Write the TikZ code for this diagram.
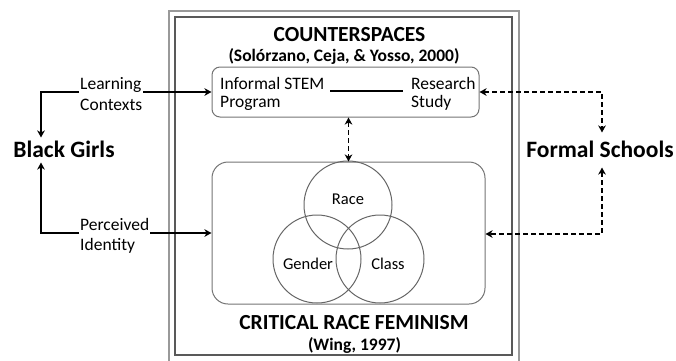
\documentclass[tikz,border=0pt]{standalone}
\usepackage{fontspec}
\setmainfont{Carlito}
\usetikzlibrary{arrows.meta}
\begin{document}
\begin{tikzpicture}[x=1pt,y=-1pt,
  frameout/.style={draw=black!40,line width=1.4pt},
  framein/.style={draw=black!65,line width=1.4pt},
  panel/.style={draw=black!55,line width=1pt,inner sep=0pt},
  venn/.style={draw=black!60,line width=1pt,circle,minimum size=88pt,inner sep=0pt},
  body/.style={font=\fontsize{17.5}{18}\selectfont,inner sep=0pt,align=left},
  side/.style={font=\fontsize{17.5}{20.5}\selectfont,inner sep=1pt,align=left},
  vlabel/.style={font=\fontsize{16.5}{19}\selectfont,inner sep=0pt},
  title/.style={font=\bfseries\fontsize{21.5}{24}\selectfont,inner sep=0pt},
  subtitle/.style={font=\bfseries\fontsize{17.5}{20}\selectfont,inner sep=0pt},
  actor/.style={font=\bfseries\fontsize{23.5}{26}\selectfont,inner sep=0pt,text height=14pt,text depth=0pt},
  tip/.style={Stealth[length=7pt,width=7.5pt,inset=2pt]},
  arr/.style={line width=1.4pt,-{Stealth[length=7pt,width=7.5pt,inset=2pt]}},
  darr/.style={line width=1.4pt,dash pattern=on 5pt off 3pt,{Stealth[length=7pt,width=7.5pt,inset=2pt]}-{Stealth[length=7pt,width=7.5pt,inset=2pt]}}
]
\useasboundingbox (0,0) rectangle (676,360);
% double frame
\draw[frameout] (169,365) -- (169,11) -- (519,11) -- (519,365);
\draw[framein] (175,17) rectangle (512,355);
% titles
\node[title] (t1) at (349.5,35) {COUNTERSPACES};
\node[subtitle] (t2) at (344,56) {(Solórzano, Ceja, \& Yosso, 2000)};
\node[title] (t3) at (354,322.5) {CRITICAL RACE FEMINISM};
\node[subtitle] (t4) at (354.5,345) {(Wing, 1997)};
% panels
\node[panel,rounded corners=8pt,minimum width=267pt,minimum height=50pt] (cs) at (345.5,92) {};
\node[panel,rounded corners=16pt,minimum width=273pt,minimum height=142pt] (crf) at (348.5,233) {};
\node[body,anchor=west] (ifs) at (220,93.6) {Informal STEM\\Program};
\node[body,anchor=west] (rs) at (411,93.6) {Research\\Study};
\coordinate (l1) at (330,91);
\coordinate (l2) at (403,91);
\draw[line width=1.6pt] (l1) -- (l2);
% venn
\node[venn] (race) at (348,205) {};
\node[venn] (gender) at (317,259) {};
\node[venn] (class) at (380,259) {};
\node[vlabel] (racel) at (348,199) {Race};
\node[vlabel] (genderl) at (308,264) {Gender};
\node[vlabel] (classl) at (388,264) {Class};
% actors
\node[actor,outer ysep=5.5pt] (bg) at (64,150) {Black Girls};
\node[actor,outer ysep=10.5pt] (fs) at (600,150) {Formal Schools};
\node[side,anchor=west] (lc) at (79,94) {Learning\\Contexts};
\node[side,anchor=west] (pi) at (79,236) {Perceived\\Identity};
% connectors
\draw[arr] ([yshift=2pt]lc.west) -| ([xshift=-23pt]bg.north);
\draw[arr] ([yshift=2pt]lc.east) -- ([yshift=2pt]lc.east -| cs.west);
\draw[arr] ([yshift=3pt]pi.west) -| ([xshift=-23pt]bg.south);
\draw[arr] ([yshift=3pt]pi.east) -- ([yshift=3pt]pi.east -| crf.west);
\draw[darr] (cs.east) -| ([xshift=2pt]fs.north);
\draw[darr] ([xshift=2pt]fs.south) |- ([yshift=-1pt]crf.east);
\draw[darr] (cs.south -| crf.north) -- (crf.north);
\end{tikzpicture}
\end{document}
